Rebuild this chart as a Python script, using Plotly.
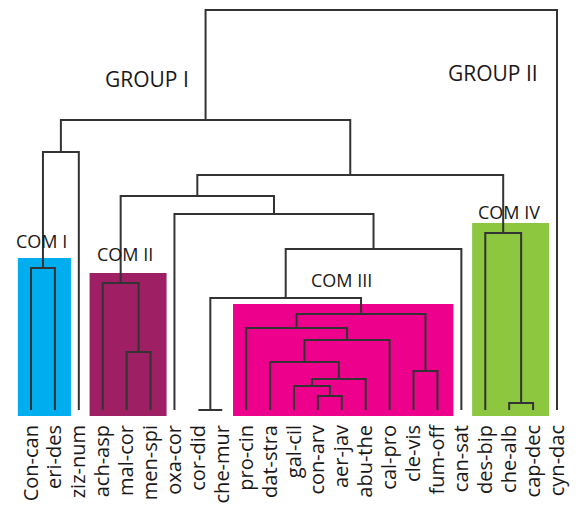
import plotly.graph_objects as go

# Leaf order along the bottom of the dendrogram
leaves = ["Con-can", "eri-des", "ziz-num", "ach-asp", "mal-cor", "men-spi",
          "oxa-cor", "cor-did", "che-mur", "pro-cin", "dat-stra", "gal-cil",
          "con-arv", "aer-jav", "abu-the", "cal-pro", "cle-vis", "fum-off",
          "can-sat", "des-bip", "che-alb", "cap-dec", "cyn-dac"]

# Agglomeration steps: node "n<i>" joins merge_left[i] and merge_right[i] at merge_height[i]
merge_left = ["con-arv", "gal-cil", "n1", "dat-stra", "n3", "pro-cin", "cle-vis",
              "n5", "cor-did", "n8", "n9", "oxa-cor", "mal-cor", "ach-asp", "n13",
              "che-alb", "des-bip", "n14", "Con-can", "n18", "n19", "n20"]
merge_right = ["aer-jav", "n0", "abu-the", "n2", "cal-pro", "n4", "fum-off",
               "n6", "che-mur", "n7", "can-sat", "n10", "men-spi", "n12", "n11",
               "cap-dec", "n15", "n16", "eri-des", "ziz-num", "n17", "cyn-dac"]
merge_height = [0.035, 0.06, 0.0775, 0.12, 0.175, 0.205, 0.0975,
                0.24, 0.0, 0.28, 0.4025, 0.49, 0.145, 0.3175, 0.535,
                0.0175, 0.4425, 0.5875, 0.355, 0.645, 0.725, 1.0]

# Communities highlighted with coloured boxes
com_names = ["COM I", "COM II", "COM III", "COM IV"]
com_first = ["Con-can", "ach-asp", "pro-cin", "des-bip"]
com_last = ["eri-des", "men-spi", "fum-off", "cap-dec"]
com_colors = ["#00AEEF", "#9E1F63", "#EC008C", "#8DC63F"]

group_names = ["GROUP I", "GROUP II"]

LINE = "#333333"
TEXT = "#1a1718"
FONT = "Open Sans"

# position of every leaf / internal node
pos = {name: (float(i), 0.0) for i, name in enumerate(leaves)}
xs, ys = [], []
for i, (a, b, h) in enumerate(zip(merge_left, merge_right, merge_height)):
    xa, ha = pos[a]
    xb, hb = pos[b]
    xs += [xa, xa, xb, xb, None]
    ys += [ha, h, h, hb, None]
    pos[f"n{i}"] = ((xa + xb) / 2, h)

fig = go.Figure()

# coloured community boxes, drawn under the branches
pad_l, pad_r, pad_top, box_bottom = 0.55, 0.67, 0.025, -0.015
for name, first, last, color in zip(com_names, com_first, com_last, com_colors):
    i0, i1 = leaves.index(first), leaves.index(last)
    inside = set(leaves[i0:i1 + 1])
    top = 0.0
    for i, (a, b, h) in enumerate(zip(merge_left, merge_right, merge_height)):
        if a in inside and b in inside:
            inside.add(f"n{i}")
            top = max(top, h)
    fig.add_shape(type="rect", layer="below", line_width=0, fillcolor=color,
                  x0=i0 - pad_l, x1=i1 + pad_r, y0=box_bottom, y1=top + pad_top)

fig.add_trace(go.Scatter(x=xs, y=ys, mode="lines", hoverinfo="skip",
                         line=dict(color=LINE, width=2), showlegend=False))

# community and group labels
com_label_pos = [(0.42, 0.4225), (3.93, 0.39), (12.97, 0.325), (19.99, 0.495)]
for name, (x, y) in zip(com_names, com_label_pos):
    fig.add_annotation(x=x, y=y, text=name, showarrow=False,
                       font=dict(family=FONT, size=18, color=TEXT))
group_label_pos = [(4.85, 0.8275), (19.32, 0.8425)]
for name, (x, y) in zip(group_names, group_label_pos):
    fig.add_annotation(x=x, y=y, text=name, showarrow=False,
                       font=dict(family=FONT, size=21, color=TEXT))

fig.update_xaxes(range=[-1.2966, 23.004], tickvals=list(range(len(leaves))),
                 ticktext=leaves, tickangle=-90, ticks="", showgrid=False,
                 zeroline=False, showline=False, automargin=False,
                 tickfont=dict(family=FONT, size=20, color=TEXT))
fig.update_yaxes(range=[-0.025, 1.025], visible=False, showgrid=False, zeroline=False)
fig.update_layout(width=581, height=506, margin=dict(l=0, r=0, t=0, b=86),
                  plot_bgcolor="white", paper_bgcolor="white")

fig.write_html("out.html")
